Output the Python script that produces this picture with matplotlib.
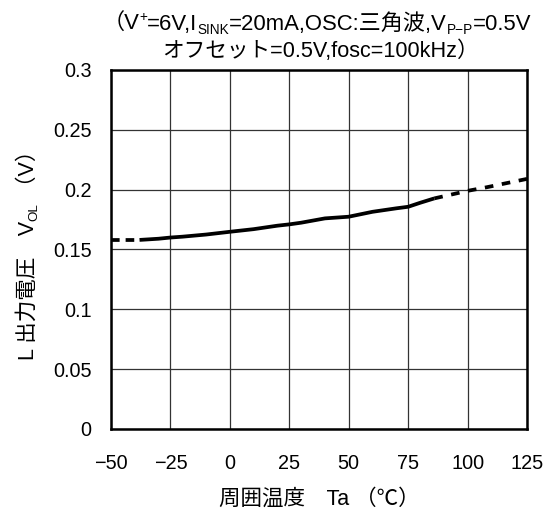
import matplotlib
matplotlib.use("Agg")
import matplotlib.pyplot as plt
import numpy as np

# ---- data ----
temps = [-50, -38, -30, -25, -20, -10, 0, 10, 20, 25, 30, 40, 50, 60, 70, 75, 80, 86, 90, 100, 108, 125]
vol = [0.158, 0.158, 0.159, 0.160, 0.1607, 0.1625, 0.1648, 0.167, 0.1699, 0.171, 0.1724, 0.176, 0.1774,
       0.1815, 0.1844, 0.1857, 0.189, 0.1927, 0.1945, 0.199, 0.202, 0.209]
solid_range = (-38, 86)
x_ticks = [-50, -25, 0, 25, 50, 75, 100, 125]
x_ticklabels = ["\u221250", "\u221225", "0", "25", "50", "75", "100", "125"]
y_ticks = [0, 0.05, 0.1, 0.15, 0.2, 0.25, 0.3]
y_ticklabels = ["0", "0.05", "0.1", "0.15", "0.2", "0.25", "0.3"]

title1 = [("\uff08V", "n"), ("+", "sup"), ("=6V,I", "n"), ("SINK", "sub"),
          ("=20mA,OSC:三角波,V", "n"), ("P\u2212P", "sub"), ("=0.5V", "n")]
title2 = [("オフセット=0.5V,fosc=100kHz\uff09", "n")]
ylabel_pieces = [("L 出力電圧\u3000V", "n"), ("OL", "sub"), (" \uff08V\uff09", "n")]
xlabel = "周囲温度\u3000Ta \uff08\u2103\uff09"

FAM = ["Liberation Sans", "Noto Sans CJK JP", "DejaVu Sans"]
plt.rcParams["font.family"] = FAM

W, H, DPI = 554, 515, 100
fig = plt.figure(figsize=(W / DPI, H / DPI), dpi=DPI)
ax = fig.add_axes([111 / W, 1 - 429 / H, 416 / W, 359 / H])

t = np.array(temps)
v = np.array(vol)
lo, hi = solid_range
m_left = t <= lo
m_mid = (t >= lo) & (t <= hi)
m_right = t >= hi
lw = 2.7
ax.plot(t[m_mid], v[m_mid], color="black", lw=lw, solid_capstyle="butt", zorder=3)
ax.plot(t[m_left], v[m_left], color="black", lw=lw, dashes=(2.3, 1.6), zorder=3)
ax.plot(t[m_right], v[m_right], color="black", lw=lw, dashes=(2.3, 2.3), zorder=3)

ax.set_xlim(-50, 125)
ax.set_ylim(0, 0.3)
ax.set_xticks(x_ticks)
ax.set_xticklabels(x_ticklabels, fontsize=14.3)
ax.set_yticks(y_ticks)
ax.set_yticklabels(y_ticklabels, fontsize=14.3)
ax.tick_params(axis="both", length=0)
ax.tick_params(axis="x", pad=18)
ax.tick_params(axis="y", pad=14)
ax.grid(True, color="#333333", lw=0.9)
for s in ax.spines.values():
    s.set_linewidth(1.8)
    s.set_color("black")

ax.set_xlabel(xlabel, fontsize=15.5, family=FAM, labelpad=11)

renderer = fig.canvas.get_renderer()


def rich_line(pieces, xc_px, ybase_px, size, rotate=False):
    objs = []
    total = 0.0
    for s, kind in pieces:
        fs = size if kind == "n" else size * 0.62
        tx = fig.text(0, 0, s, fontsize=fs, family=FAM, ha="left", va="baseline",
                      rotation_mode="anchor")
        w = tx.get_window_extent(renderer).width
        objs.append((tx, kind, w))
        total += w
    pos = -total / 2.0
    for tx, kind, w in objs:
        off = {"n": 0.0, "sup": size * 0.42, "sub": -size * 0.16}[kind] * DPI / 72.0
        if not rotate:
            tx.set_position(((xc_px + pos) / W, (H - ybase_px + off) / H))
        else:
            tx.set_rotation(90)
            tx.set_position(((xc_px - off) / W, (H - ybase_px + pos) / H))
        pos += w
    return objs


rich_line(title1, 317, 30, 15.9)
rich_line(title2, 320, 57, 15.6)
rich_line(ylabel_pieces, 34, 250, 15.5, rotate=True)

fig.savefig("out.png", dpi=DPI)
